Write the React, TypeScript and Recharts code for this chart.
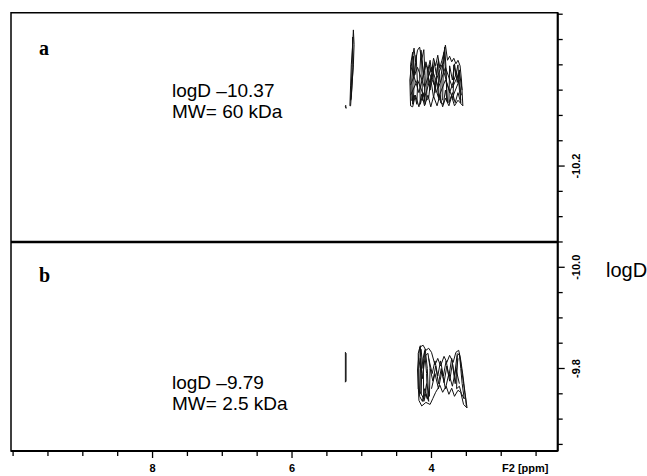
import React from 'react';
import { LineChart, Line, XAxis, YAxis, ReferenceLine, ReferenceArea, Customized } from 'recharts';

// F2 axis (ppm) ticks, minor every 0.5, labelled at the even values
const ppmTicks = [10, 9.5, 9, 8.5, 8, 7.5, 7, 6.5, 6, 5.5, 5, 4.5, 4, 3.5, 3, 2.5];
const ppmLabels = [8, 6, 4];
const ppmDomain = [2.19, 10.03];

// diffusion axis (logD), minor every 0.05
const logDTicks = [
  -10.5, -10.45, -10.4, -10.35, -10.3, -10.25, -10.2, -10.15, -10.1,
  -10.05, -10.0, -9.95, -9.9, -9.85, -9.8, -9.75, -9.7, -9.65,
];
const logDLabels = [-10.2, -10.0, -9.8];
const logDDomain = [-10.503, -9.637];
const panelDivider = -10.05;

// contour traces, [ppm, logD]
// panel a: 60 kDa polymer
const aThinOuter = [[5.17, -10.319], [5.16, -10.36], [5.15, -10.4], [5.13, -10.44], [5.12, -10.469], [5.11, -10.44], [5.12, -10.4], [5.14, -10.36], [5.16, -10.319], [5.17, -10.319]];
const aThinInner = [[5.16, -10.33], [5.14, -10.39], [5.13, -10.455], [5.125, -10.395], [5.15, -10.335], [5.16, -10.33]];
const aThinSpot = [[5.235, -10.318], [5.225, -10.314], [5.23, -10.32], [5.235, -10.318]];
const aOuter = [
  [4.3, -10.319], [4.31, -10.37], [4.28, -10.409], [4.25, -10.433], [4.23, -10.406], [4.2, -10.429], [4.17, -10.435],
  [4.14, -10.409], [4.11, -10.38], [4.08, -10.406], [4.05, -10.39], [4.02, -10.409], [4.0, -10.386], [3.97, -10.413],
  [3.94, -10.398], [3.91, -10.419], [3.88, -10.394], [3.85, -10.409], [3.82, -10.425], [3.8, -10.439], [3.77, -10.409],
  [3.74, -10.417], [3.71, -10.406], [3.68, -10.413], [3.65, -10.402], [3.62, -10.409], [3.59, -10.398], [3.57, -10.37],
  [3.55, -10.319], [3.62, -10.33], [3.67, -10.319], [3.71, -10.338], [3.75, -10.319], [3.8, -10.334], [3.84, -10.317],
  [3.88, -10.34], [3.92, -10.319], [3.97, -10.338], [4.01, -10.317], [4.05, -10.34], [4.1, -10.319], [4.14, -10.342],
  [4.18, -10.317], [4.23, -10.34], [4.27, -10.317], [4.3, -10.319],
];
const aLoop1 = [[4.27, -10.322], [4.28, -10.37], [4.26, -10.417], [4.24, -10.38], [4.22, -10.419], [4.2, -10.36], [4.21, -10.322], [4.24, -10.34], [4.27, -10.322]];
const aLoop2 = [[4.16, -10.322], [4.17, -10.38], [4.15, -10.429], [4.12, -10.39], [4.1, -10.36], [4.09, -10.322], [4.12, -10.345], [4.16, -10.322]];
const aLoop3 = [[4.07, -10.33], [4.06, -10.394], [4.02, -10.35], [3.98, -10.398], [3.95, -10.345], [3.91, -10.402], [3.89, -10.33], [3.93, -10.37], [3.97, -10.335], [4.01, -10.372], [4.04, -10.335], [4.07, -10.33]];
const aLoop4 = [[3.87, -10.325], [3.86, -10.38], [3.82, -10.425], [3.79, -10.375], [3.77, -10.325], [3.8, -10.35], [3.83, -10.322], [3.87, -10.325]];
const aLoop5 = [[3.75, -10.325], [3.74, -10.398], [3.7, -10.37], [3.67, -10.402], [3.63, -10.365], [3.6, -10.39], [3.58, -10.325], [3.62, -10.345], [3.66, -10.325], [3.7, -10.345], [3.75, -10.325]];
const aLoop6 = [[4.29, -10.33], [4.3, -10.4], [4.27, -10.425], [4.25, -10.36], [4.26, -10.33], [4.29, -10.33]];
const aLoop7 = [[4.13, -10.33], [4.14, -10.41], [4.11, -10.43], [4.09, -10.37], [4.1, -10.33], [4.13, -10.33]];
const aLoop8 = [[4.05, -10.36], [4.03, -10.4], [3.99, -10.375], [3.96, -10.405], [3.93, -10.38], [3.9, -10.41], [3.88, -10.365]];
const aLoop9 = [[3.84, -10.33], [3.83, -10.4], [3.81, -10.435], [3.79, -10.39], [3.78, -10.33]];
const aLoop10 = [[3.69, -10.33], [3.68, -10.4], [3.65, -10.38], [3.62, -10.4], [3.6, -10.35], [3.58, -10.33]];
const aCross1 = [[4.3, -10.36], [4.2, -10.395], [4.1, -10.355], [4.0, -10.395], [3.9, -10.355], [3.8, -10.395], [3.7, -10.355], [3.6, -10.385], [3.56, -10.35]];
const aCross2 = [[4.29, -10.395], [4.18, -10.345], [4.08, -10.4], [3.96, -10.36], [3.85, -10.4], [3.74, -10.345], [3.64, -10.385], [3.57, -10.34]];
const aCross3 = [[4.3, -10.34], [4.2, -10.37], [4.1, -10.335], [4.0, -10.38], [3.9, -10.335], [3.8, -10.37], [3.7, -10.335], [3.6, -10.37]];

// panel b: 2.5 kDa fraction
const bThin = [[5.235, -9.773], [5.235, -9.832], [5.225, -9.83], [5.225, -9.775], [5.235, -9.773]];
const bOuter = [
  [4.18, -9.737], [4.2, -9.797], [4.17, -9.842], [4.12, -9.846], [4.08, -9.836], [4.04, -9.84], [4.0, -9.832],
  [3.95, -9.807], [3.91, -9.82], [3.87, -9.805], [3.82, -9.824], [3.78, -9.812], [3.74, -9.826], [3.69, -9.812],
  [3.65, -9.832], [3.61, -9.836], [3.58, -9.816], [3.55, -9.787], [3.52, -9.753], [3.49, -9.722], [3.54, -9.729],
  [3.58, -9.753], [3.62, -9.757], [3.67, -9.745], [3.71, -9.761], [3.75, -9.749], [3.79, -9.765], [3.84, -9.753],
  [3.88, -9.767], [3.94, -9.753], [3.98, -9.741], [4.02, -9.729], [4.08, -9.733], [4.14, -9.726], [4.18, -9.737],
];
const bLoop1 = [[4.17, -9.745], [4.18, -9.8], [4.15, -9.838], [4.12, -9.8], [4.1, -9.835], [4.07, -9.79], [4.06, -9.74], [4.1, -9.76], [4.13, -9.735], [4.17, -9.745]];
const bLoop2 = [[4.15, -9.75], [4.16, -9.82], [4.13, -9.78], [4.09, -9.825], [4.05, -9.83], [4.02, -9.8], [4.03, -9.745], [4.07, -9.77], [4.11, -9.74], [4.15, -9.75]];
const bLoop4 = [[4.19, -9.76], [4.19, -9.83], [4.16, -9.845], [4.14, -9.79], [4.15, -9.75], [4.19, -9.76]];
const bLoop5 = [[4.11, -9.735], [4.12, -9.82], [4.09, -9.838], [4.06, -9.8], [4.04, -9.735], [4.08, -9.75], [4.11, -9.735]];
const bZig1 = [[4.02, -9.8], [3.98, -9.775], [3.94, -9.805], [3.9, -9.77], [3.86, -9.8], [3.82, -9.772], [3.78, -9.805], [3.74, -9.775], [3.7, -9.81], [3.66, -9.77], [3.62, -9.82]];
const bZig2 = [[4.0, -9.76], [3.95, -9.79], [3.9, -9.76], [3.85, -9.795], [3.8, -9.76], [3.75, -9.79], [3.7, -9.765], [3.65, -9.8], [3.6, -9.77]];
const bZig3 = [[4.04, -9.82], [3.99, -9.79], [3.95, -9.815], [3.91, -9.785], [3.87, -9.815], [3.83, -9.785], [3.79, -9.815], [3.75, -9.785], [3.71, -9.82], [3.67, -9.785], [3.63, -9.83]];
const bLoop3 = [[3.64, -9.76], [3.63, -9.825], [3.6, -9.83], [3.58, -9.8], [3.56, -9.77], [3.53, -9.74], [3.57, -9.75], [3.6, -9.765], [3.64, -9.76]];
const bTail = [[3.6, -9.83], [3.57, -9.8], [3.54, -9.77], [3.51, -9.74], [3.5, -9.725]];

const contours = [
  aThinOuter, aThinInner, aThinSpot, aOuter, aLoop1, aLoop2, aLoop3, aLoop4, aLoop5, aLoop6, aLoop7,
  aLoop8, aLoop9, aLoop10, aCross1, aCross2, aCross3,
  bThin, bOuter, bLoop1, bLoop2, bLoop4, bLoop5, bZig1, bZig2, bZig3, bLoop3, bTail,
];

const toPts = (c: number[][]) => c.map(([x, y]) => ({ x, y }));

const sans = 'Liberation Sans, Arial, sans-serif';
const serif = 'Liberation Serif, Times New Roman, serif';

const PpmTick = (props: any) => {
  const { x, y, payload } = props;
  const major = ppmLabels.includes(payload.value);
  return (
    <g>
      <line x1={x} x2={x} y1={y} y2={y + (major ? 7 : 5)} stroke="#000" strokeWidth={1.3} />
      {major && (
        <text x={x} y={y + 21} textAnchor="middle" fontSize={11} fontWeight="bold" fontFamily={sans} fill="#000">
          {payload.value}
        </text>
      )}
    </g>
  );
};

const LogDTick = (props: any) => {
  const { x, y, payload } = props;
  const major = logDLabels.some(v => Math.abs(v - payload.value) < 1e-6);
  return (
    <g>
      <line x1={x} x2={x + (major ? 7 : 5)} y1={y} y2={y} stroke="#000" strokeWidth={1.3} />
      {major && (
        <text
          x={x + 22}
          y={y}
          transform={`rotate(-90 ${x + 22} ${y})`}
          textAnchor="middle"
          fontSize={11}
          fontWeight="bold"
          fontFamily={sans}
          fill="#000"
        >
          {payload.value.toFixed(1)}
        </text>
      )}
    </g>
  );
};

const Notes = () => (
  <g fill="#000">
    <text x={39} y={55} fontSize={20} fontWeight="bold" fontFamily={serif}>a</text>
    <text x={39} y={282} fontSize={20} fontWeight="bold" fontFamily={serif}>b</text>
    <text x={172} y={97} fontSize={19} fontFamily={sans}>logD –10.37</text>
    <text x={172} y={118} fontSize={19} fontFamily={sans}>MW= 60 kDa</text>
    <text x={172} y={389} fontSize={19} fontFamily={sans}>logD –9.79</text>
    <text x={172} y={410} fontSize={19} fontFamily={sans}>MW= 2.5 kDa</text>
    <text x={502} y={472} fontSize={11} fontWeight="bold" fontFamily={sans}>F2 [ppm]</text>
    <text x={606} y={277} fontSize={20} fontFamily={sans}>logD</text>
  </g>
);

export default function App() {
  return (
    <div style={{ position: 'absolute', left: 0, top: 0, background: '#fff' }}>
      <LineChart width={647} height={476} margin={{ top: 12.7, left: 11, right: 49.3, bottom: 0 }}>
        <XAxis
          type="number"
          dataKey="x"
          domain={ppmDomain}
          reversed
          allowDataOverflow
          ticks={ppmTicks}
          interval={0}
          height={25}
          tickLine={false}
          tickSize={0}
          tickMargin={0}
          tick={<PpmTick />}
          axisLine={{ stroke: '#000', strokeWidth: 2 }}
        />
        <YAxis
          type="number"
          dataKey="y"
          orientation="right"
          domain={logDDomain}
          reversed
          allowDataOverflow
          ticks={logDTicks}
          interval={0}
          width={40}
          tickLine={false}
          tickSize={0}
          tickMargin={0}
          tick={<LogDTick />}
          axisLine={{ stroke: '#000', strokeWidth: 2 }}
        />
        <ReferenceArea
          x1={ppmDomain[1]}
          x2={ppmDomain[0]}
          y1={logDDomain[0]}
          y2={logDDomain[1]}
          fill="none"
          stroke="#000"
          strokeWidth={1.5}
          ifOverflow="visible"
        />
        <ReferenceLine y={panelDivider} stroke="#000" strokeWidth={2.5} />
        {contours.map((c, i) => (
          <Line
            key={i}
            data={toPts(c)}
            dataKey="y"
            type="linear"
            stroke="#111"
            strokeWidth={1}
            dot={false}
            isAnimationActive={false}
          />
        ))}
        <Customized component={Notes} />
      </LineChart>
    </div>
  );
}
